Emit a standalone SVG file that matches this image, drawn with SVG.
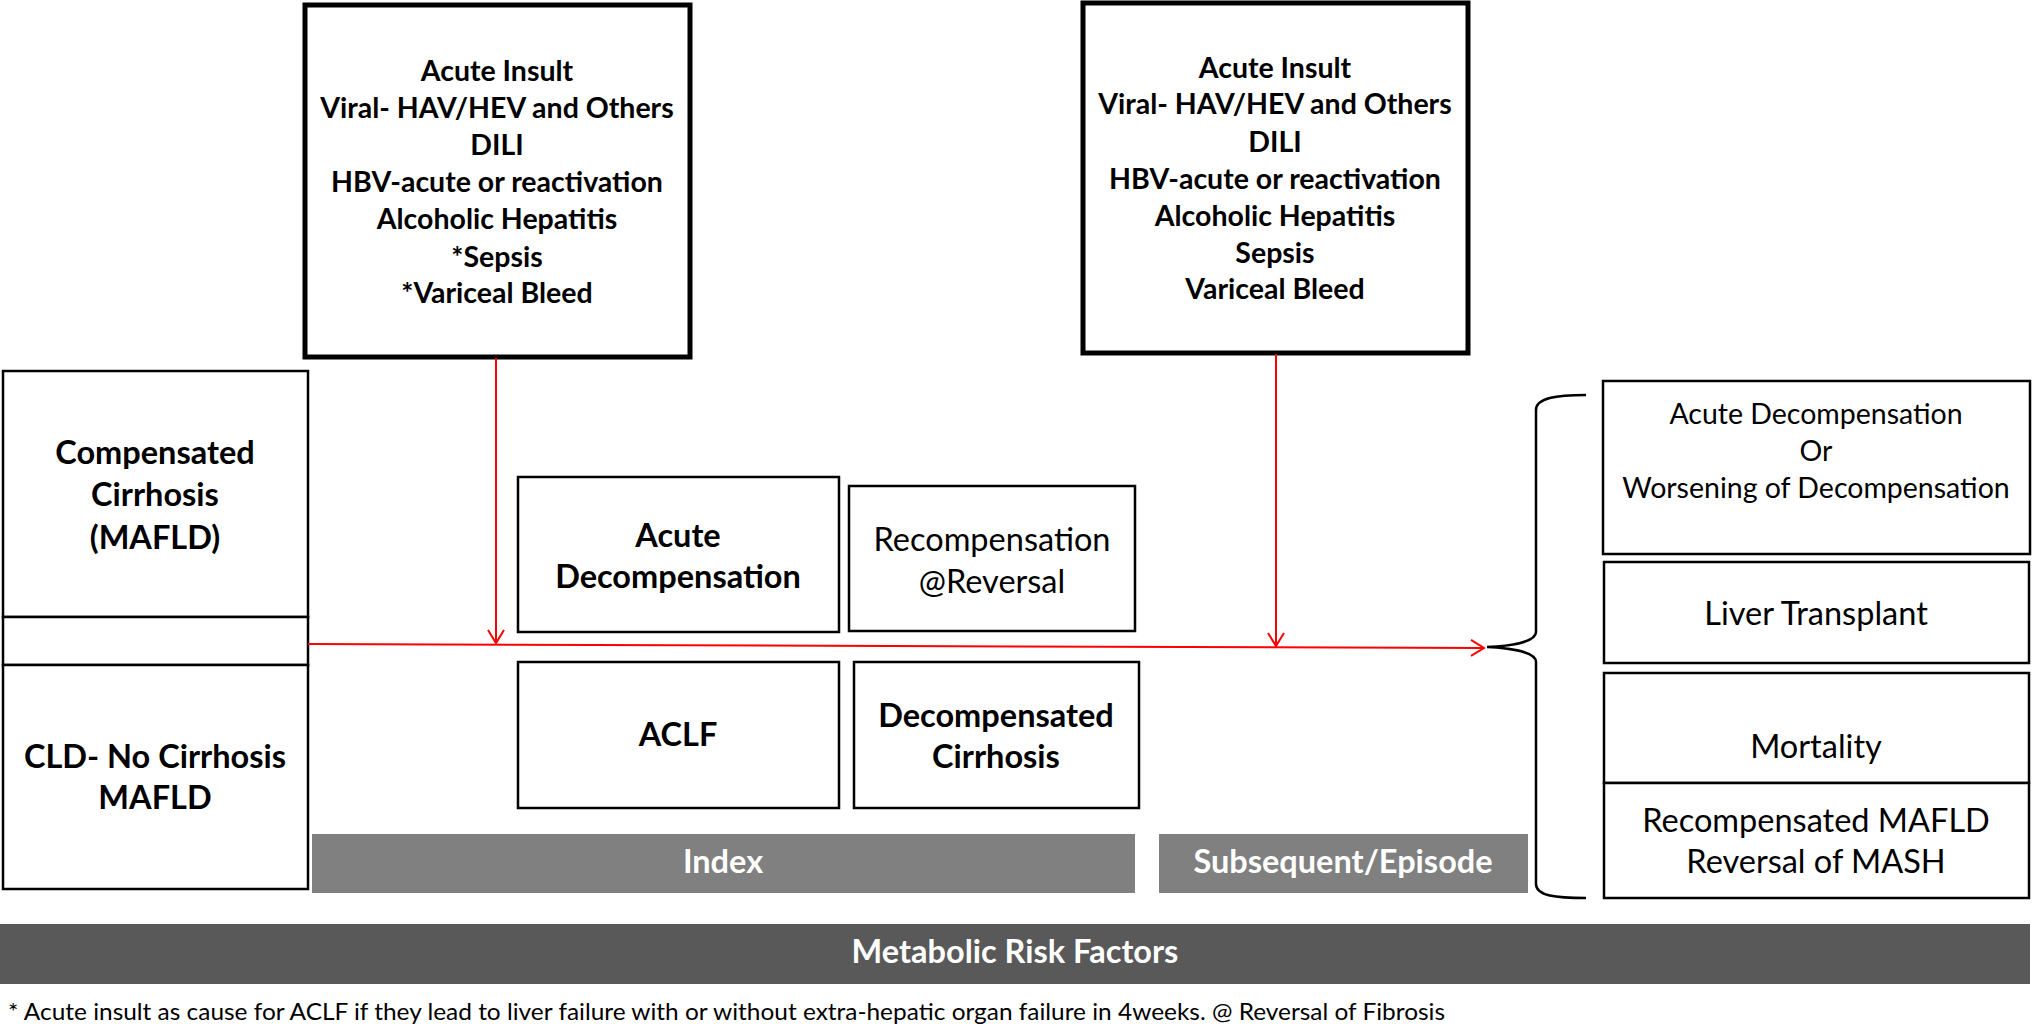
<svg xmlns="http://www.w3.org/2000/svg" width="2032" height="1027" viewBox="0 0 2032 1027">
<style>
  .box { fill: #ffffff; stroke: #000000; stroke-width: 2.5; }
  .thick { fill: #ffffff; stroke: #000000; stroke-width: 5; }
  .bar1 { fill: #808080; }
  .bar2 { fill: #595959; }
  text { font-family: Lato, "Open Sans", "Liberation Sans", sans-serif; text-anchor: middle; fill: #000000; }
  .b27 { font-size: 28.5px; font-weight: bold; }
  .b31 { font-size: 32.5px; font-weight: bold; }
  .r27 { font-size: 28.5px; }
  .r31 { font-size: 32.5px; }
  .w { fill: #ffffff; font-weight: bold; font-size: 32.5px; }
  .foot { font-size: 24px; text-anchor: start; }
  .red { stroke: #ff0000; stroke-width: 2; fill: none; }
</style>
<defs>
  <marker id="arr" markerUnits="userSpaceOnUse" markerWidth="18" markerHeight="20" refX="14" refY="9" orient="auto">
    <path d="M1,1 L14,9 L1,17" fill="none" stroke="#ff0000" stroke-width="2"/>
  </marker>
</defs>
<rect width="2032" height="1027" fill="#ffffff"/>

<g id="insult-index">
  <rect class="thick" x="305" y="5" width="385" height="352"/>
  <text class="b27" x="497" y="81">Acute Insult</text>
  <text class="b27" x="497" y="118">Viral- HAV/HEV and Others</text>
  <text class="b27" x="497" y="155">DILI</text>
  <text class="b27" x="497" y="192">HBV-acute or reactivation</text>
  <text class="b27" x="497" y="229">Alcoholic Hepatitis</text>
  <text class="b27" x="497" y="267">*Sepsis</text>
  <text class="b27" x="497" y="303">*Variceal Bleed</text>
</g>

<g id="insult-subsequent">
  <rect class="thick" x="1083" y="3" width="385" height="350"/>
  <text class="b27" x="1275" y="78">Acute Insult</text>
  <text class="b27" x="1275" y="114">Viral- HAV/HEV and Others</text>
  <text class="b27" x="1275" y="152">DILI</text>
  <text class="b27" x="1275" y="189">HBV-acute or reactivation</text>
  <text class="b27" x="1275" y="226">Alcoholic Hepatitis</text>
  <text class="b27" x="1275" y="263">Sepsis</text>
  <text class="b27" x="1275" y="299">Variceal Bleed</text>
</g>

<g id="compensated-cirrhosis">
  <rect class="box" x="3" y="371" width="305" height="246"/>
  <text class="b31" x="155" y="464">Compensated</text>
  <text class="b31" x="155" y="506">Cirrhosis</text>
  <text class="b31" x="155" y="549">(MAFLD)</text>
</g>

<g id="strip">
  <rect class="box" x="3" y="617" width="305" height="48"/>
</g>

<g id="cld-no-cirrhosis">
  <rect class="box" x="3" y="665" width="305" height="224"/>
  <text class="b31" x="155" y="768">CLD- No Cirrhosis</text>
  <text class="b31" x="155" y="809">MAFLD</text>
</g>

<g id="acute-decompensation">
  <rect class="box" x="518" y="477" width="321" height="155"/>
  <text class="b31" x="678" y="547">Acute</text>
  <text class="b31" x="678" y="588">Decompensation</text>
</g>

<g id="recompensation">
  <rect class="box" x="849" y="486" width="286" height="145"/>
  <text class="r31" x="992" y="551">Recompensation</text>
  <text class="r31" x="992" y="593">@Reversal</text>
</g>

<g id="aclf">
  <rect class="box" x="518" y="662" width="321" height="146"/>
  <text class="b31" x="678" y="746">ACLF</text>
</g>

<g id="decompensated-cirrhosis">
  <rect class="box" x="854" y="662" width="285" height="146"/>
  <text class="b31" x="996" y="727">Decompensated</text>
  <text class="b31" x="996" y="768">Cirrhosis</text>
</g>

<g id="index-bar">
  <rect class="bar1" x="312" y="834" width="823" height="59"/>
  <text class="w" x="723" y="873">Index</text>
</g>

<g id="subsequent-bar">
  <rect class="bar1" x="1159" y="834" width="369" height="59"/>
  <text class="w" x="1343" y="873">Subsequent/Episode</text>
</g>

<g id="metabolic-bar">
  <rect class="bar2" x="0" y="924" width="2030" height="60"/>
  <text class="w" x="1015" y="963">Metabolic Risk Factors</text>
</g>

<g id="outcome-ad">
  <rect class="box" x="1603" y="381" width="427" height="173"/>
  <text class="r27" x="1816" y="424">Acute Decompensation</text>
  <text class="r27" x="1816" y="461">Or</text>
  <text class="r27" x="1816" y="498">Worsening of Decompensation</text>
</g>

<g id="outcome-lt">
  <rect class="box" x="1604" y="562" width="425" height="101"/>
  <text class="r31" x="1816" y="625">Liver Transplant</text>
</g>

<g id="outcome-mortality">
  <rect class="box" x="1604" y="673" width="425" height="110"/>
  <text class="r31" x="1816" y="758">Mortality</text>
</g>

<g id="outcome-recomp">
  <rect class="box" x="1604" y="783" width="425" height="115"/>
  <text class="r31" x="1816" y="832">Recompensated MAFLD</text>
  <text class="r31" x="1816" y="873">Reversal of MASH</text>
</g>

<g id="connectors">
  <line class="red" x1="496" y1="358" x2="496" y2="643" marker-end="url(#arr)"/>
  <line class="red" x1="1276" y1="354" x2="1276" y2="646" marker-end="url(#arr)"/>
  <line class="red" x1="308" y1="644" x2="1484" y2="648" marker-end="url(#arr)"/>
  <path d="M1586,395 C1556,395 1536,398 1536,410 L1536,632 C1536,642 1510,646 1487,647 C1510,648 1536,652 1536,662 L1536,884 C1536,896 1556,898 1586,898" fill="none" stroke="#000000" stroke-width="2.5"/>
</g>

<text class="foot" x="8" y="1020" textLength="1437" lengthAdjust="spacingAndGlyphs">* Acute insult as cause for ACLF if they lead to liver failure with or without extra-hepatic organ failure in 4weeks. @ Reversal of Fibrosis</text>
</svg>
